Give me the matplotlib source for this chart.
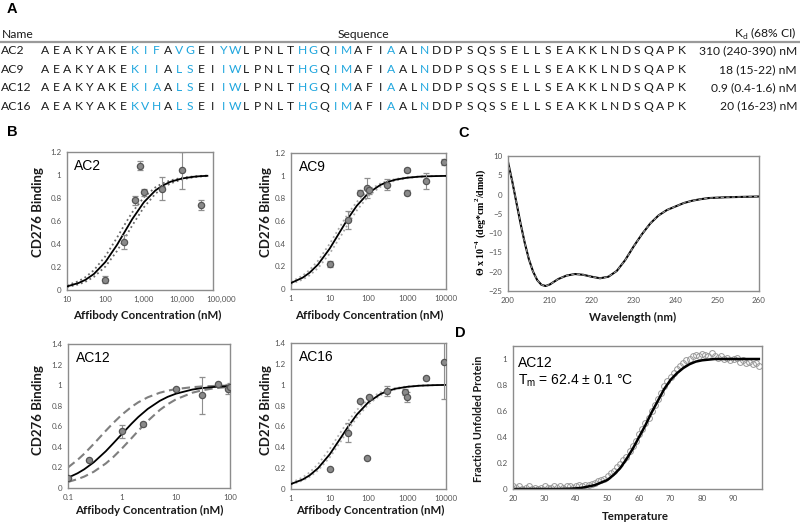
import matplotlib
matplotlib.use("Agg")
import matplotlib.pyplot as plt
from matplotlib.transforms import blended_transform_factory

W, H = 800, 523

# ---------------- panel A: sequence table
names = ["AC2", "AC9", "AC12", "AC16"]
sequences = [
    "AEAKYAKEKIFAVGEIYWLPNLTHGQIMAFIAALNDDPSQSSELLSEAKKLNDSQAPK",
    "AEAKYAKEKIIALSEIIWLPNLTHGQIMAFIAALNDDPSQSSELLSEAKKLNDSQAPK",
    "AEAKYAKEKIAALSEIIWLPNLTHGQIMAFIAALNDDPSQSSELLSEAKKLNDSQAPK",
    "AEAKYAKEKVHALSEIIWLPNLTHGQIMAFIAALNDDPSQSSELLSEAKKLNDSQAPK",
]
varied_pos = [8, 9, 10, 12, 13, 16, 17, 23, 24, 26, 27, 31, 34]
kd_text = ["310 (240-390) nM", "18 (15-22) nM", "0.9 (0.4-1.6) nM", "20 (16-23) nM"]

# ---------------- panel B: binding data
ac2_conc = [100, 300, 600, 800, 1000, 3000, 10000, 30000]
ac2_bind = [0.09, 0.42, 0.78, 1.08, 0.85, 0.88, 1.04, 0.74]
ac2_err = [0.03, 0.06, 0.04, 0.04, 0.03, 0.10, 0.16, 0.045]
ac2_grid = [10, 20, 30, 50, 100, 200, 300, 500, 1000, 2000, 3000, 5000, 10000, 20000, 30000, 45000]
ac2_fit = [0.031, 0.061, 0.088, 0.139, 0.244, 0.392, 0.492, 0.617, 0.763, 0.866, 0.906, 0.942, 0.970, 0.985, 0.990, 0.993]
ac2_hi = [0.040, 0.077, 0.111, 0.172, 0.294, 0.455, 0.556, 0.676, 0.806, 0.893, 0.926, 0.954, 0.977, 0.988, 0.992, 0.995]
ac2_lo = [0.025, 0.049, 0.071, 0.114, 0.204, 0.339, 0.435, 0.562, 0.719, 0.837, 0.885, 0.928, 0.962, 0.981, 0.987, 0.991]

ac9_conc = [10, 30, 60, 90, 100, 300, 1000, 1000, 3000, 9000]
ac9_bind = [0.22, 0.61, 0.85, 0.89, 0.87, 0.92, 1.05, 0.85, 0.95, 1.12]
ac9_err = [0.03, 0.08, 0.02, 0.09, 0.03, 0.05, 0.02, 0.02, 0.07, 0.03]
grid_1_10k = [1, 2, 3, 5, 10, 20, 30, 50, 100, 200, 300, 500, 1000, 2000, 3000, 5000, 10000]
ac9_fit = [0.053, 0.100, 0.143, 0.217, 0.357, 0.526, 0.625, 0.735, 0.847, 0.917, 0.943, 0.965, 0.982, 0.991, 0.994, 0.996, 0.998]
ac9_hi = [0.063, 0.118, 0.167, 0.250, 0.400, 0.571, 0.667, 0.769, 0.870, 0.930, 0.952, 0.971, 0.985, 0.993, 0.995, 0.997, 0.999]
ac9_lo = [0.044, 0.083, 0.120, 0.185, 0.313, 0.476, 0.577, 0.694, 0.820, 0.901, 0.932, 0.958, 0.978, 0.989, 0.993, 0.996, 0.998]

ac12_conc = [0.1, 0.25, 1, 2.5, 10, 30, 60, 90, 100]
ac12_bind = [0.10, 0.27, 0.55, 0.62, 0.96, 0.90, 1.01, 0.96, 0.98]
ac12_err = [0.01, 0.01, 0.06, 0.02, 0.01, 0.18, 0.01, 0.05, 0.04]
ac12_grid = [0.1, 0.15, 0.2, 0.3, 0.5, 0.7, 1, 1.5, 2, 3, 5, 7, 10, 20, 30, 50, 100]
ac12_fit = [0.100, 0.143, 0.182, 0.250, 0.357, 0.438, 0.526, 0.625, 0.690, 0.769, 0.847, 0.886, 0.917, 0.957, 0.971, 0.982, 0.991]
ac12_hi = [0.200, 0.273, 0.333, 0.429, 0.556, 0.636, 0.714, 0.789, 0.833, 0.882, 0.926, 0.946, 0.962, 0.980, 0.987, 0.992, 0.996]
ac12_lo = [0.059, 0.086, 0.111, 0.158, 0.238, 0.304, 0.385, 0.484, 0.556, 0.652, 0.758, 0.814, 0.862, 0.926, 0.949, 0.969, 0.984]

ac16_conc = [10, 30, 60, 90, 100, 300, 900, 1000, 3000, 9000]
ac16_bind = [0.19, 0.54, 0.84, 0.30, 0.88, 0.94, 0.93, 0.88, 1.06, 1.22]
ac16_err = [0.01, 0.09, 0.01, 0.01, 0.01, 0.05, 0.03, 0.05, 0.01, 0.36]
ac16_fit = [0.048, 0.091, 0.130, 0.200, 0.333, 0.500, 0.600, 0.714, 0.833, 0.909, 0.938, 0.962, 0.980, 0.990, 0.993, 0.996, 0.998]
ac16_hi = [0.059, 0.111, 0.158, 0.238, 0.385, 0.556, 0.652, 0.758, 0.862, 0.926, 0.949, 0.969, 0.984, 0.992, 0.995, 0.997, 0.998]
ac16_lo = [0.042, 0.080, 0.115, 0.179, 0.303, 0.465, 0.566, 0.685, 0.813, 0.897, 0.929, 0.956, 0.978, 0.989, 0.992, 0.995, 0.998]

# ---------------- panel C: CD spectrum
wavelength = [200, 201, 202, 203, 204, 205, 206, 207, 208, 209, 210, 211, 212, 214, 216, 218, 220, 222,
              224, 226, 228, 230, 232, 234, 236, 238, 240, 242, 244, 246, 248, 250, 252, 254, 256, 258, 260]
ellipticity = [8.5, 3.5, -2.0, -7.5, -12.5, -16.8, -20.0, -22.2, -23.4, -23.7, -23.3, -22.6, -21.9, -21.0,
               -20.6, -20.8, -21.3, -21.7, -21.3, -19.8, -17.0, -13.5, -10.3, -7.5, -5.4, -4.0, -3.1, -2.2,
               -1.6, -1.2, -0.9, -0.8, -0.7, -0.65, -0.6, -0.55, -0.5]

# ---------------- panel D: thermal melt
temp = list(range(20, 99))
unfolded = [0.02, 0.01, 0.02, 0.00, 0.01, 0.02, 0.00, 0.01, 0.00, 0.01, 0.02, 0.01, 0.01, 0.02, 0.01, 0.02,
            0.01, 0.02, 0.02, 0.01, 0.02, 0.03, 0.02, 0.03, 0.03, 0.04, 0.05, 0.06, 0.07, 0.08, 0.10, 0.12,
            0.14, 0.17, 0.19, 0.22, 0.25, 0.29, 0.33, 0.37, 0.42, 0.46, 0.51, 0.55, 0.60, 0.65, 0.69, 0.74,
            0.79, 0.83, 0.86, 0.89, 0.92, 0.95, 0.97, 0.99, 1.00, 1.02, 1.03, 1.02, 1.04, 1.03, 1.02, 1.05,
            1.02, 1.01, 1.02, 1.00, 1.01, 0.99, 1.00, 1.01, 0.98, 0.99, 0.97, 0.98, 0.96, 0.97, 0.95]
temp_fit = list(range(20, 100, 2))
unfolded_fit = [0, 0, 0, 0, 0, 0, 0, 0, 0.001, 0.002, 0.005, 0.01, 0.02, 0.03, 0.05, 0.07, 0.11, 0.16,
                0.23, 0.31, 0.40, 0.49, 0.59, 0.68, 0.77, 0.84, 0.89, 0.93, 0.96, 0.98, 0.99, 0.995, 1.0,
                1.0, 1.0, 1.0, 1.0, 1.0, 1.0, 1.0]

BLUE = "#1fa6de"
DARK = "#1a1a1a"
SANS = "Lato"
ARIAL = "Liberation Sans"
TICK = 5.8

fig = plt.figure(figsize=(8, 5.23), dpi=100)

# full-figure axes in pixel units for the table and labels
base = fig.add_axes([0, 0, 1, 1])
base.set_xlim(0, W)
base.set_ylim(H, 0)
base.axis("off")


def rect(x0, y0, x1, y1):
    return [x0 / W, 1 - y1 / H, (x1 - x0) / W, (y1 - y0) / H]


# panel letters
for lab, x, y in [("A", 12, 9), ("B", 12, 132), ("C", 464, 133), ("D", 460, 333)]:
    base.text(x, y, lab, fontsize=10.5, fontweight="bold", family=ARIAL, ha="center", va="center")

# table header
FS = 8.7
base.text(2, 34, "Name", fontsize=FS, family=SANS, va="center", color=DARK)
base.text(363, 34, "Sequence", fontsize=FS, family=SANS, va="center", ha="center", color=DARK)
base.text(797, 34, "K$_{\\mathregular{d}}$ (68% CI)", fontsize=FS, family=SANS, va="center", ha="right", color=DARK)
base.plot([0, 800], [42, 42], color="#9a9a9a", lw=1.6)

row_y = [51, 69.5, 87.5, 106]
x_first, x_step = 45, 11.175
for name, seq, kd, y in zip(names, sequences, kd_text, row_y):
    base.text(1, y, name, fontsize=FS, family=SANS, va="center", color=DARK)
    for i, ch in enumerate(seq):
        base.text(x_first + i * x_step, y, ch, fontsize=FS, family=SANS, ha="center", va="center",
                  color=BLUE if i in varied_pos else DARK)
    base.text(797, y, kd, fontsize=FS, family=SANS, va="center", ha="right", color=DARK)


def style(ax):
    for s in ax.spines.values():
        s.set_color("#8c8c8c")
        s.set_linewidth(1.0)
    ax.tick_params(length=0, labelsize=TICK, labelcolor="#555555", pad=4)
    for t in ax.get_xticklabels() + ax.get_yticklabels():
        t.set_family(SANS)


def binding_panel(r, title, conc, bind, err, grid, fit, hi, lo, xlim, ylim, xticks, xlabels,
                  yticks, ylabels, ci_color, ci_ls, ci_lw):
    ax = fig.add_axes(rect(*r))
    ax.set_xscale("log")
    ax.plot(grid, hi, color=ci_color, ls=ci_ls, lw=ci_lw, zorder=2)
    ax.plot(grid, lo, color=ci_color, ls=ci_ls, lw=ci_lw, zorder=2)
    ax.plot(grid, fit, color="black", lw=1.3, zorder=3)
    ax.errorbar(conc, bind, yerr=err, fmt="o", ms=4.5, mfc="#8a8a8a", mec="#555555", mew=0.9,
                ecolor="#8f8f8f", elinewidth=0.8, capsize=2, capthick=0.8, zorder=4)
    ax.set_xlim(*xlim)
    ax.set_ylim(*ylim)
    ax.minorticks_off()
    ax.set_xticks(xticks)
    ax.set_xticklabels(xlabels)
    ax.set_yticks(yticks)
    ax.set_yticklabels(ylabels)
    ax.text(0.05, 0.95, title, transform=ax.transAxes, fontsize=10, family=ARIAL, va="top", ha="left")
    style(ax)
    return ax


yt12 = [0, 0.2, 0.4, 0.6, 0.8, 1.0, 1.2]
yl12 = ["0", "0.2", "0.4", "0.6", "0.8", "1", "1.2"]
yt14 = [0, 0.2, 0.4, 0.6, 0.8, 1.0, 1.2, 1.4]
yl14 = ["0", "0.2", "0.4", "0.6", "0.8", "1", "1.2", "1.4"]
xt_1 = [1, 10, 100, 1000, 10000]
xl_1 = ["1", "10", "100", "1000", "10000"]

ax2 = binding_panel((67, 152, 213, 290), "AC2", ac2_conc, ac2_bind, ac2_err, ac2_grid, ac2_fit, ac2_hi,
                    ac2_lo, (10, 63000), (0, 1.2), [10, 100, 1000, 10000],
                    ["10", "100", "1,000", "10,000"], yt12, yl12, "#6a6a6a", ":", 1.3)
# the last label of this axis sits past the plot frame in the original
ax2.text(100000, -0.04, "100,000", transform=blended_transform_factory(ax2.transData, ax2.transAxes),
         fontsize=TICK, color="#555555", family=SANS, ha="center", va="top", clip_on=False)
binding_panel((291, 153, 446, 289), "AC9", ac9_conc, ac9_bind, ac9_err, grid_1_10k, ac9_fit, ac9_hi,
              ac9_lo, (1, 10000), (0, 1.2), xt_1, xl_1, yt12, yl12, "#a8a8a8", ":", 1.3)
binding_panel((68, 344, 230, 488), "AC12", ac12_conc, ac12_bind, ac12_err, ac12_grid, ac12_fit, ac12_hi,
              ac12_lo, (0.1, 100), (0, 1.4), [0.1, 1, 10, 100], ["0.1", "1", "10", "100"], yt14, yl14,
              "#7f7f7f", (0, (4, 2.2)), 1.5)
binding_panel((291, 343, 446, 489), "AC16", ac16_conc, ac16_bind, ac16_err, grid_1_10k, ac16_fit, ac16_hi,
              ac16_lo, (1, 10000), (0, 1.4), xt_1, xl_1, yt14, yl14, "#b0b0b0", ":", 1.3)

# axis labels for B
lab_kw = dict(family=SANS, fontweight="bold", ha="center", va="center", color=DARK)
for x, y in [(38, 212), (266, 212), (38, 410), (266, 410)]:
    base.text(x, y, "CD276 Binding", fontsize=9.5, rotation=90, **lab_kw)
for x, y in [(147, 315), (369, 315), (149, 510), (370, 510)]:
    base.text(x, y, "Affibody Concentration (nM)", fontsize=8.3, **lab_kw)

# ---------------- panel C
axc = fig.add_axes(rect(508, 156, 759, 291))
axc.plot(wavelength, ellipticity, color="black", lw=1.5)
axc.plot(wavelength, ellipticity, color="#9a9a9a", lw=0.8, ls=(0, (3, 2)))
axc.set_xlim(200, 260)
axc.set_ylim(-25, 10)
axc.set_xticks([200, 210, 220, 230, 240, 250, 260])
axc.set_yticks([-25, -20, -15, -10, -5, 0, 5, 10])
style(axc)
base.text(633, 317, "Wavelength (nm)", fontsize=8.2, **lab_kw)
base.text(481, 222, "\u0398 x 10$^{\\mathregular{-4}}$ (deg*cm$^{\\mathregular{2}}$/dmol)", fontsize=7.2,
          rotation=90, family="Liberation Serif", fontweight="bold", ha="center", va="center")

# ---------------- panel D
axd = fig.add_axes(rect(513, 346, 762, 489))
axd.plot(temp, unfolded, "o", ms=4.2, mfc="none", mec="#999999", mew=0.7)
axd.plot(temp_fit, unfolded_fit, color="black", lw=1.8)
axd.set_xlim(20, 99)
axd.set_ylim(0, 1.1)
axd.set_xticks([20, 30, 40, 50, 60, 70, 80, 90])
axd.set_yticks([0, 0.2, 0.4, 0.6, 0.8, 1.0])
axd.set_yticklabels(["0", "0.2", "0.4", "0.6", "0.8", "1"])
style(axd)
axd.text(0.02, 0.93, "AC12\nT$_{\\mathregular{m}}$ = 62.4 \u00b1 0.1 \u00b0C", transform=axd.transAxes,
         fontsize=10, family=ARIAL, va="top", ha="left", linespacing=1.2)
base.text(635, 516, "Temperature", fontsize=8.3, **lab_kw)
base.text(478, 419, "Fraction Unfolded Protein", fontsize=7.8, rotation=90, **lab_kw)

fig.savefig("out.png", dpi=100)
